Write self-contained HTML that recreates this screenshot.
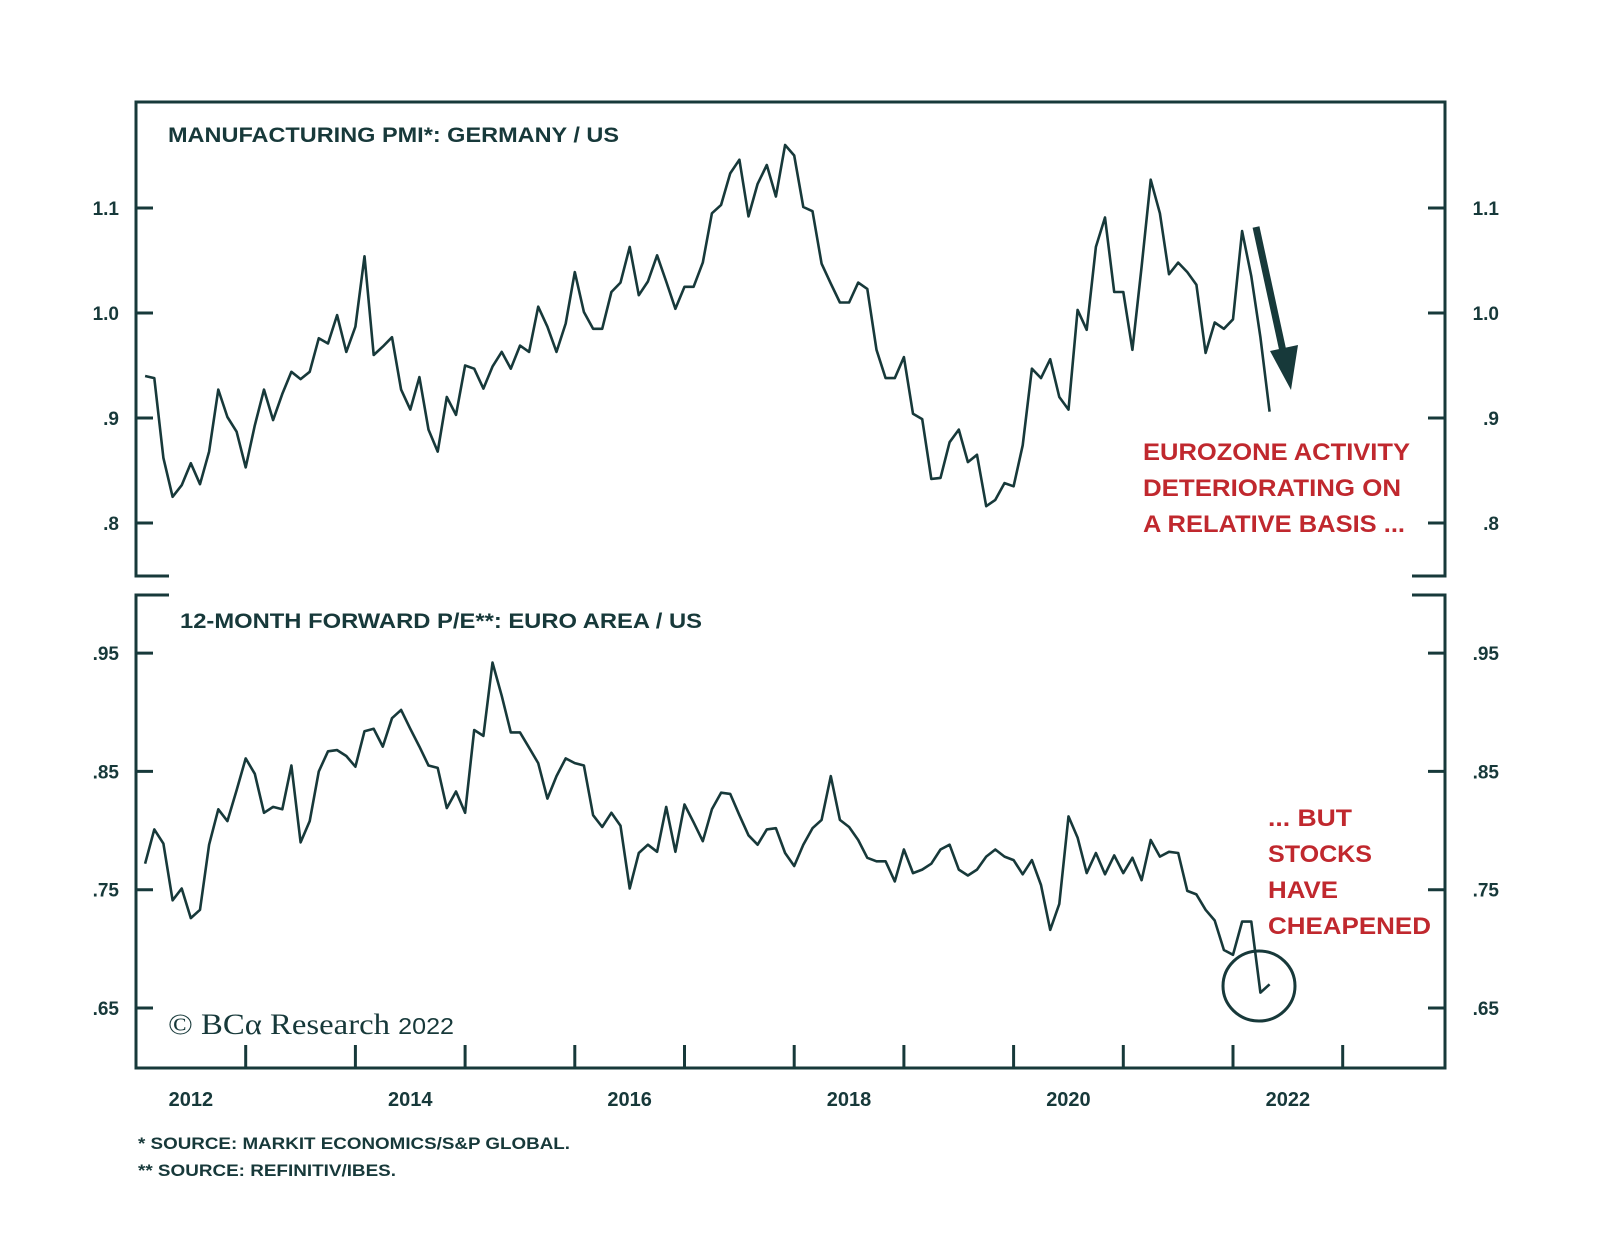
<!DOCTYPE html>
<html><head><meta charset="utf-8"><style>
html,body{margin:0;padding:0;background:#fff;}
svg{display:block;}
</style></head><body>
<svg id="chart" width="1600" height="1256" viewBox="0 0 1600 1256" xmlns="http://www.w3.org/2000/svg" font-family="Liberation Sans, sans-serif">
<g id="frame" stroke="#17393a" stroke-width="3" fill="none">
  <path d="M169,576 H136 V102 H1445 V576 H1412"/>
  <path d="M169,595 H136 V1068 H1445 V595 H1412"/>
</g>
<g id="ticks"></g>
<text x="168" y="142" font-size="21" font-weight="bold" fill="#17393a" textLength="451" lengthAdjust="spacingAndGlyphs">MANUFACTURING PMI*: GERMANY / US</text>
<text x="180" y="628" font-size="21" font-weight="bold" fill="#17393a" textLength="522" lengthAdjust="spacingAndGlyphs">12-MONTH FORWARD P/E**: EURO AREA / US</text>
<path id="pmi-line" fill="none" stroke="#17393a" stroke-width="2.6" stroke-linejoin="round"/>
<path id="pe-line" fill="none" stroke="#17393a" stroke-width="2.6" stroke-linejoin="round"/>
<g>
  <line x1="1256" y1="227" x2="1284" y2="356" stroke="#17393a" stroke-width="7"/>
  <polygon points="1270,351 1298,345 1291,390" fill="#17393a"/>
</g>
<g fill="#c0282e" font-size="24" font-weight="bold">
  <text x="1143" y="460" textLength="267" lengthAdjust="spacingAndGlyphs">EUROZONE ACTIVITY</text>
  <text x="1143" y="496" textLength="258" lengthAdjust="spacingAndGlyphs">DETERIORATING ON</text>
  <text x="1143" y="532" textLength="262" lengthAdjust="spacingAndGlyphs">A RELATIVE BASIS ...</text>
</g>
<g fill="#c0282e" font-size="24" font-weight="bold">
  <text x="1268" y="826" textLength="84" lengthAdjust="spacingAndGlyphs">... BUT</text>
  <text x="1268" y="862" textLength="104" lengthAdjust="spacingAndGlyphs">STOCKS</text>
  <text x="1268" y="898" textLength="70" lengthAdjust="spacingAndGlyphs">HAVE</text>
  <text x="1268" y="934" textLength="163" lengthAdjust="spacingAndGlyphs">CHEAPENED</text>
</g>
<ellipse cx="1259" cy="986" rx="36" ry="35" fill="none" stroke="#17393a" stroke-width="3"/>
<text x="168" y="1034" font-size="30" fill="#17393a" style="font-family:'Liberation Serif',serif" textLength="286" lengthAdjust="spacingAndGlyphs">© BCα Research <tspan font-size="23" style="font-family:'Liberation Sans',sans-serif">2022</tspan></text>
<text x="138" y="1149" font-size="17" fill="#17393a" font-weight="bold" textLength="432" lengthAdjust="spacingAndGlyphs">*  SOURCE: MARKIT ECONOMICS/S&amp;P GLOBAL.</text>
<text x="138" y="1176" font-size="17" fill="#17393a" font-weight="bold" textLength="258" lengthAdjust="spacingAndGlyphs">** SOURCE: REFINITIV/IBES.</text>
</svg>
<script>
const pmiValues = [.940,.938,.862,.825,.836,.857,.837,.868,.927,.901,.887,.853,.893,.927,.898,.923,.944,.937,.944,.976,.971,.998,.963,.987,1.054,.960,.968,.977,.927,.908,.939,.889,.868,.920,.903,.950,.947,.928,.949,.963,.947,.969,.963,1.006,.987,.963,.990,1.039,1.001,.985,.985,1.020,1.029,1.063,1.017,1.030,1.055,1.030,1.004,1.025,1.025,1.048,1.095,1.103,1.133,1.146,1.092,1.123,1.141,1.111,1.160,
1.150,1.101,1.097,1.047,1.028,1.010,1.010,1.029,1.023,.965,.938,.938,.958,.904,.899,.842,.843,.877,.889,.858,.865,.816,.822,.838,.835,.874,.947,.938,.956,.920,.908,1.003,.984,1.063,1.091,1.020,1.020,.965,1.044,1.127,1.095,1.037,1.048,1.039,1.027,.962,.991,.985,.994,1.078,1.035,.977,.906];
const peValues = [.772,.801,.789,.741,.751,.726,.733,.788,.818,.808,.834,.861,.848,.815,.820,.818,.855,.790,.808,.850,.867,.868,.863,.854,.884,.886,.871,.895,.902,.886,.871,.855,.853,.819,.833,.815,.885,.880,.942,.914,.883,.883,.870,.857,.827,.846,.861,.857,.855,.813,.803,.815,.804,.751,.781,.788,.782,.820,.782,.822,.807,.791,.818,.832,.831,.813,.796,.788,.801,.802,.781,
.770,.788,.802,.809,.846,.809,.803,.792,.777,.774,.774,.757,.784,.764,.767,.772,.784,.788,.767,.762,.767,.778,.784,.778,.775,.763,.775,.754,.716,.738,.812,.794,.764,.781,.763,.779,.764,.777,.758,.792,.778,.782,.781,.749,.746,.733,.724,.699,.695,.723,.723,.663,.670];
const startYear = 2012 + 1/12;
const yearLabels = ["2012","2014","2016","2018","2020","2022"];
const yearTicks = [2013,2014,2015,2016,2017,2018,2019,2020,2021,2022,2023];
const pmiTicks = [0.8,0.9,1.0,1.1];
const pmiTickLabels = [".8",".9","1.0","1.1"];
const peTicks = [0.65,0.75,0.85,0.95];
const peTickLabels = [".65",".75",".85",".95"];

const NS = "http://www.w3.org/2000/svg";
function xScale(t){ return 136 + (t - 2012) * 109.7; }
function yPmi(v){ return 523 - (v - 0.8) * 1050; }
function yPe(v){ return 1008 - (v - 0.65) * 1183; }

function linePath(vals, yf){
  return vals.map((v,i)=> (i?"L":"M") + xScale(startYear + i/12).toFixed(1) + "," + yf(v).toFixed(1)).join(" ");
}
document.getElementById("pmi-line").setAttribute("d", linePath(pmiValues, yPmi));
document.getElementById("pe-line").setAttribute("d", linePath(peValues, yPe));

const tg = document.getElementById("ticks");
function mk(tag, attrs, text){
  const e = document.createElementNS(NS, tag);
  for (const k in attrs) e.setAttribute(k, attrs[k]);
  if (text !== undefined) e.textContent = text;
  tg.appendChild(e);
  return e;
}
function yTicks(ticks, labels, yf, prefix){
  ticks.forEach((v,i)=>{
    const y = yf(v);
    const l1 = mk("line",{x1:136,x2:153,y1:y,y2:y,stroke:"#17393a","stroke-width":3});
    
    
    const l2 = mk("line",{x1:1428,x2:1445,y1:y,y2:y,stroke:"#17393a","stroke-width":3});
    
    
    const t1 = mk("text",{x:119,y:y+7,"text-anchor":"end","font-size":19,"font-weight":"bold",fill:"#17393a"},labels[i]);
    
    
    const t2 = mk("text",{x:1499,y:y+7,"text-anchor":"end","font-size":19,"font-weight":"bold",fill:"#17393a"},labels[i]);
    
    
  });
}
yTicks(pmiTicks, pmiTickLabels, yPmi, "pmi-y");
yTicks(peTicks, peTickLabels, yPe, "pe-y");
yearTicks.forEach(yr=>{
  const x = xScale(yr);
  const l = mk("line",{x1:x,x2:x,y1:1045,y2:1068,stroke:"#17393a","stroke-width":3});
  
  
});
yearLabels.forEach(lb=>{
  const x = xScale(parseInt(lb,10) + 0.5);
  const t = mk("text",{x:x,y:1106,"text-anchor":"middle","font-size":20,"font-weight":"bold",fill:"#17393a"},lb);
  
  
});
</script>
</body></html>
